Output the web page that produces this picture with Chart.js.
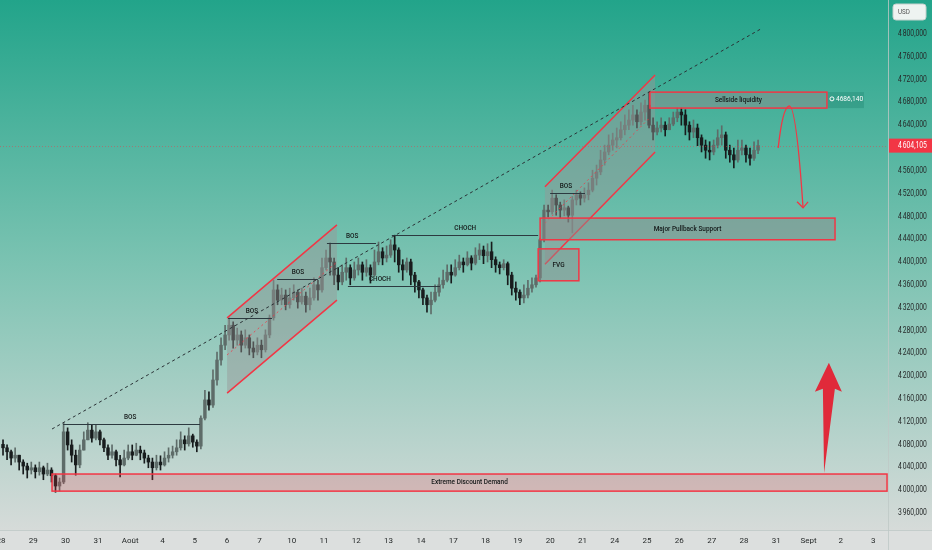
<!DOCTYPE html>
<html lang="fr">
<head>
<meta charset="UTF-8">
<title>Graphique</title>
<script src="https://cdn.jsdelivr.net/npm/chart.js"></script>
<style>
  html, body { margin: 0; padding: 0; background: #dcdedd; }
  #wrap { width: 932px; height: 550px; position: relative; }
</style>
</head>
<body>
<div id="wrap"><canvas id="chart"></canvas></div>
<script>
// axe du temps : une étiquette par séance
const dayLabels = ['28','29','30','31','Août','4','5','6','7','10','11','12','13','14','17','18','19','20','21','24','25','26','27','28','31','Sept','2','3'];
const priceTicks = [3960,4000,4040,4080,4120,4160,4200,4240,4280,4320,4360,4400,4440,4480,4520,4560,4600,4640,4680,4720,4760,4800];
const candlesPerDay = 8;

// bougies (ouverture = clôture précédente)
const firstOpen = 4080;
const candleClose = [
  4074,4067,4056,4061,4049,4042,4035,4039,
  4032,4039,4028,4035,4025,4007,4014,4102,
  4079,4061,4044,4070,4088,4105,4091,4102,
  4088,4074,4061,4067,4053,4044,4056,4067,
  4061,4070,4065,4056,4049,4039,4049,4044,
  4056,4061,4067,4074,4088,4081,4095,4084,
  4077,4126,4158,4149,4193,4228,4254,4272,
  4289,4263,4272,4254,4267,4249,4242,4254,
  4246,4272,4302,4351,4333,4342,4325,4337,
  4347,4330,4340,4325,4337,4360,4351,4390,
  4407,4400,4377,4365,4382,4390,4372,4386,
  4395,4382,4390,4377,4400,4418,4407,4412,
  4430,4421,4395,4386,4400,4377,4365,4351,
  4337,4325,4333,4347,4360,4368,4382,4377,
  4390,4400,4395,4407,4398,4412,4421,4411,
  4418,4404,4395,4390,4397,4377,4354,4347,
  4337,4342,4354,4360,4372,4439,4491,4488,
  4512,4500,4491,4495,4482,4509,4518,4512,
  4518,4526,4547,4558,4579,4593,4605,4614,
  4618,4632,4640,4649,4658,4646,4663,4675,
  4640,4628,4635,4640,4632,4642,4653,4663,
  4658,4640,4628,4635,4618,4605,4596,4593,
  4605,4618,4623,4596,4588,4579,4596,4600,
  4588,4582,4596,4604.105
];
const candleHigh = [
  4088,4079,4070,4074,4061,4053,4047,4049,
  4044,4049,4042,4047,4039,4028,4021,4118,
  4109,4088,4070,4079,4102,4118,4114,4114,
  4105,4091,4079,4079,4070,4061,4070,4079,
  4079,4082,4077,4070,4061,4056,4061,4060,
  4067,4074,4077,4088,4102,4095,4109,4098,
  4088,4130,4175,4172,4211,4242,4267,4289,
  4302,4295,4284,4279,4281,4272,4260,4267,
  4263,4281,4307,4368,4360,4354,4351,4354,
  4360,4351,4354,4347,4354,4372,4368,4407,
  4421,4433,4407,4390,4395,4407,4395,4400,
  4407,4400,4404,4395,4421,4435,4425,4428,
  4439,4447,4425,4404,4407,4405,4382,4368,
  4354,4342,4347,4360,4372,4386,4395,4395,
  4404,4412,4407,4418,4411,4425,4432,4428,
  4432,4435,4409,4400,4404,4400,4382,4365,
  4351,4360,4368,4372,4377,4442,4500,4500,
  4526,4518,4505,4509,4498,4515,4526,4523,
  4530,4539,4561,4570,4596,4605,4623,4626,
  4635,4646,4658,4667,4675,4667,4679,4684,
  4698,4653,4646,4653,4646,4653,4663,4670,
  4670,4667,4646,4649,4642,4623,4614,4611,
  4614,4632,4639,4628,4605,4600,4614,4614,
  4605,4600,4611,4614
];
const candleLow = [
  4061,4053,4044,4049,4035,4028,4021,4028,
  4021,4026,4018,4025,4014,3996,3998,4011,
  4070,4049,4026,4039,4070,4088,4084,4088,
  4079,4067,4053,4056,4042,4023,4042,4053,
  4053,4060,4053,4047,4039,4018,4035,4035,
  4042,4049,4056,4061,4070,4070,4077,4075,
  4067,4072,4123,4140,4145,4184,4219,4246,
  4263,4249,4254,4242,4249,4237,4232,4237,
  4232,4242,4267,4298,4325,4325,4316,4319,
  4333,4319,4326,4312,4316,4333,4333,4347,
  4386,4377,4360,4351,4360,4368,4360,4368,
  4377,4368,4375,4363,4375,4395,4395,4400,
  4408,4400,4382,4368,4382,4360,4347,4337,
  4325,4312,4309,4330,4340,4354,4365,4363,
  4375,4386,4382,4393,4386,4395,4404,4397,
  4400,4390,4382,4379,4386,4360,4342,4333,
  4325,4328,4337,4347,4356,4365,4435,4479,
  4484,4482,4477,4481,4470,4451,4500,4500,
  4505,4509,4523,4535,4553,4570,4588,4596,
  4600,4614,4623,4632,4640,4635,4640,4649,
  4635,4614,4623,4628,4621,4632,4639,4646,
  4640,4623,4614,4618,4604,4593,4582,4579,
  4588,4600,4605,4582,4575,4565,4575,4588,
  4575,4570,4578,4590
];

// tracés (x en jours depuis le 28, prix)
const extremeZone = [1.58, 27.43, 4028, 3998];
const pullbackZone = [16.69, 25.82, 4477, 4439];
const sellsideZone = [20.09, 25.57, 4698, 4670];
const fvgZone = [16.63, 17.89, 4423, 4367];
const sellsideLevel = 4686.14;
const channel1 = [[7.0, 4302], [10.40, 4465], [10.40, 4333], [7.0, 4170]];
const channel1Mid = [[7.0, 4237], [10.40, 4400]];
const channel3 = [[16.84, 4532], [20.25, 4728], [20.25, 4593], [16.84, 4396]];
const channel3Mid = [[16.84, 4468], [20.10, 4654]];
// [x1, x2, prix, x du texte]
const bosLines = [[1.92, 6.16, 4116, 4.0], [7.03, 8.39, 4302, 7.77], [8.55, 9.81, 4370, 9.19], [10.09, 11.61, 4433, 10.87], [17.0, 18.08, 4521, 17.49]];
const chochLines = [[10.74, 13.59, 4358, 11.73], [12.1, 16.63, 4447, 14.37]];
const trendLine = [[1.58, 4107], [23.56, 4810]];
const curveArrow = [[24.06, 4600], [24.20, 4672], [24.40, 4674], [24.62, 4674], [24.83, 4495]];
const bigArrow = [[25.63, 4223], [25.48, 4030]];

const candleX = candleClose.map((c, i) => (i + 0.5) / candlesPerDay);
const candleOpen = candleClose.map((c, i) => i === 0 ? firstOpen : candleClose[i - 1]);
const upCol = '#5e6c69', downCol = '#181c1d';
const candleCol = candleClose.map((c, i) => c >= candleOpen[i] ? upCol : downCol);

const RED = '#f23645';
const labelFont = '500 7.5px "Roboto", "DejaVu Sans", sans-serif';
const axisFont = '8.5px "Roboto", "DejaVu Sans", sans-serif';

function fmtPrice(v) {
  return v.toLocaleString('fr-FR', { minimumFractionDigits: 3, maximumFractionDigits: 3 });
}

// texte resserré horizontalement, comme la police étroite de l'original
function narrowText(ctx, t, x, y, sx, align) {
  ctx.save();
  ctx.translate(x, y);
  ctx.scale(sx, 1);
  ctx.textAlign = align || 'center';
  ctx.textBaseline = 'middle';
  ctx.fillText(t, 0, 0);
  ctx.restore();
}

const bgPlugin = {
  id: 'bg',
  beforeDraw(chart) {
    const ctx = chart.ctx, a = chart.chartArea;
    ctx.save();
    const g = ctx.createLinearGradient(0, 0, 0, a.bottom);
    g.addColorStop(0, '#22a48a');
    g.addColorStop(0.5, '#7cc3b2');
    g.addColorStop(1, '#d6dbd9');
    ctx.fillStyle = g;
    ctx.fillRect(0, 0, chart.width, a.bottom);
    ctx.fillStyle = '#dcdfde';
    ctx.fillRect(0, a.bottom, chart.width, chart.height - a.bottom);
    ctx.strokeStyle = 'rgba(190,200,197,0.8)';
    ctx.lineWidth = 1;
    ctx.beginPath();
    ctx.moveTo(a.right + 0.5, 0); ctx.lineTo(a.right + 0.5, chart.height);
    ctx.moveTo(0, a.bottom + 0.5); ctx.lineTo(chart.width, a.bottom + 0.5);
    ctx.stroke();
    ctx.restore();
  }
};

const drawPlugin = {
  id: 'drawings',
  afterDatasetsDraw(chart) {
    const ctx = chart.ctx, a = chart.chartArea;
    const xs = chart.scales.x, ys = chart.scales.y;
    const X = d => xs.getPixelForValue(d), Y = p => ys.getPixelForValue(p);
    ctx.save();
    ctx.beginPath(); ctx.rect(a.left, a.top, a.right - a.left, a.bottom - a.top); ctx.clip();

    function text(t, x, y) {
      ctx.font = labelFont; ctx.fillStyle = '#141818';
      narrowText(ctx, t, x, y, 0.86);
    }
    function zone(z, fill, label) {
      const x1 = X(z[0]), x2 = X(z[1]), y1 = Y(z[2]), y2 = Y(z[3]);
      ctx.fillStyle = fill; ctx.fillRect(x1, y1, x2 - x1, y2 - y1);
      ctx.strokeStyle = RED; ctx.lineWidth = 1.5;
      ctx.strokeRect(x1, y1, x2 - x1, y2 - y1);
      if (label) text(label, (x1 + x2) / 2, (y1 + y2) / 2);
    }
    function channel(pts, mid) {
      ctx.fillStyle = 'rgba(150,150,150,0.45)';
      ctx.beginPath();
      pts.forEach((p, i) => i ? ctx.lineTo(X(p[0]), Y(p[1])) : ctx.moveTo(X(p[0]), Y(p[1])));
      ctx.closePath(); ctx.fill();
      ctx.strokeStyle = RED; ctx.lineWidth = 1.5;
      ctx.beginPath();
      ctx.moveTo(X(pts[0][0]), Y(pts[0][1])); ctx.lineTo(X(pts[1][0]), Y(pts[1][1]));
      ctx.moveTo(X(pts[3][0]), Y(pts[3][1])); ctx.lineTo(X(pts[2][0]), Y(pts[2][1]));
      ctx.stroke();
      ctx.setLineDash([2, 3]); ctx.lineWidth = 1;
      ctx.strokeStyle = 'rgba(242,54,69,0.8)';
      ctx.beginPath();
      ctx.moveTo(X(mid[0][0]), Y(mid[0][1])); ctx.lineTo(X(mid[1][0]), Y(mid[1][1]));
      ctx.stroke();
      ctx.setLineDash([]);
    }
    function hline(l, name) {
      const y = Math.round(Y(l[2])) + 0.5;
      ctx.strokeStyle = '#2c3a40'; ctx.lineWidth = 1;
      ctx.beginPath(); ctx.moveTo(X(l[0]), y); ctx.lineTo(X(l[1]), y); ctx.stroke();
      text(name, X(l[3]), y - 7);
    }

    channel(channel1, channel1Mid);
    channel(channel3, channel3Mid);
    zone(extremeZone, 'rgba(242,54,69,0.2)', 'Extreme Discount Demand');
    zone(pullbackZone, 'rgba(140,140,140,0.5)', 'Major Pullback Support');
    zone(sellsideZone, 'rgba(140,140,140,0.5)', 'Sellside liquidity');
    zone(fvgZone, 'rgba(140,140,140,0.45)', 'FVG');
    bosLines.forEach(l => hline(l, 'BOS'));
    chochLines.forEach(l => hline(l, 'CHOCH'));

    // ligne de tendance pointillée
    ctx.strokeStyle = '#2a3236'; ctx.lineWidth = 1; ctx.setLineDash([3, 3]);
    ctx.beginPath();
    ctx.moveTo(X(trendLine[0][0]), Y(trendLine[0][1]));
    ctx.lineTo(X(trendLine[1][0]), Y(trendLine[1][1]));
    ctx.stroke();

    // ligne du dernier prix
    const last = candleClose[candleClose.length - 1];
    ctx.strokeStyle = 'rgba(242,54,69,0.45)'; ctx.setLineDash([1, 2]);
    ctx.beginPath(); ctx.moveTo(a.left, Math.round(Y(last)) + 0.5); ctx.lineTo(a.right, Math.round(Y(last)) + 0.5); ctx.stroke();
    ctx.setLineDash([]);

    // flèche courbe
    const c = curveArrow.map(p => [X(p[0]), Y(p[1])]);
    ctx.strokeStyle = RED; ctx.lineWidth = 1.3;
    ctx.beginPath();
    ctx.moveTo(c[0][0], c[0][1]);
    ctx.quadraticCurveTo(c[1][0], c[1][1], c[2][0], c[2][1]);
    ctx.quadraticCurveTo(c[3][0], c[3][1], c[4][0], c[4][1]);
    ctx.stroke();
    ctx.beginPath();
    ctx.moveTo(c[4][0] - 6, c[4][1] - 6); ctx.lineTo(c[4][0], c[4][1]); ctx.lineTo(c[4][0] + 5, c[4][1] - 6);
    ctx.stroke();

    // grande flèche
    const tx = X(bigArrow[0][0]), ty = Y(bigArrow[0][1]);
    const bx = X(bigArrow[1][0]), by = Y(bigArrow[1][1]);
    ctx.fillStyle = '#e02a3a';
    ctx.beginPath();
    ctx.moveTo(tx, ty);
    ctx.lineTo(tx + 13, ty + 29);
    ctx.lineTo(tx + 6, ty + 26);
    ctx.lineTo(bx, by);
    ctx.lineTo(tx - 6, ty + 26);
    ctx.lineTo(tx - 14, ty + 29);
    ctx.closePath(); ctx.fill();
    ctx.restore();

    // étiquette du niveau Sellside
    const sy1 = Y(sellsideZone[2]), sy2 = Y(sellsideZone[3]), sx = X(sellsideZone[1]);
    ctx.save();
    ctx.fillStyle = 'rgba(30,130,110,0.35)';
    ctx.fillRect(sx + 1, sy1, 36, sy2 - sy1);
    const ly = Y(sellsideLevel);
    ctx.strokeStyle = '#ffffff'; ctx.lineWidth = 1;
    ctx.beginPath(); ctx.arc(sx + 5, ly, 2, 0, Math.PI * 2); ctx.stroke();
    ctx.font = '7.5px "Roboto", sans-serif';
    ctx.fillStyle = '#ffffff';
    narrowText(ctx, '4686,140', sx + 9, ly, 0.88, 'left');
    ctx.restore();
  },
  afterDraw(chart) {
    const ctx = chart.ctx, a = chart.chartArea, ys = chart.scales.y;
    ctx.save();
    // graduations de prix
    ctx.font = axisFont; ctx.fillStyle = '#262a2a';
    ys.ticks.forEach(t => narrowText(ctx, fmtPrice(t.value), a.right + 10, ys.getPixelForValue(t.value), 0.8, 'left'));
    // étiquette du dernier prix
    const last = candleClose[candleClose.length - 1];
    const y = ys.getPixelForValue(last);
    ctx.fillStyle = RED;
    ctx.fillRect(a.right + 1, y - 7, chart.width - a.right - 1, 14);
    ctx.fillStyle = '#ffffff';
    narrowText(ctx, fmtPrice(last), a.right + 10, y + 0.5, 0.8, 'left');
    // boîte USD
    ctx.fillStyle = '#eef3f1'; ctx.strokeStyle = '#c5d1cd';
    ctx.beginPath(); ctx.roundRect(a.right + 5, 4, 33, 16, 3); ctx.fill(); ctx.stroke();
    ctx.font = '7px "Roboto", sans-serif'; ctx.fillStyle = '#555';
    narrowText(ctx, 'USD', a.right + 10, 12.5, 0.9, 'left');
    ctx.restore();
  }
};

new Chart(document.getElementById('chart'), {
  type: 'bar',
  data: {
    datasets: [
      {
        data: candleX.map((x, i) => ({ x: x, y: [candleLow[i], candleHigh[i]] })),
        backgroundColor: candleCol,
        barThickness: 1,
        grouped: false,
        order: 2
      },
      {
        data: candleX.map((x, i) => ({ x: x, y: [candleOpen[i], candleClose[i]] })),
        backgroundColor: candleCol,
        barThickness: 2.8,
        minBarLength: 1,
        grouped: false,
        order: 1
      }
    ]
  },
  options: {
    responsive: true,
    maintainAspectRatio: false,
    animation: false,
    layout: { padding: 0 },
    plugins: { legend: { display: false }, tooltip: { enabled: false } },
    scales: {
      x: {
        type: 'linear',
        min: -0.031,
        max: 27.46,
        offset: false,
        grid: { display: false, drawTicks: false },
        border: { display: false },
        afterBuildTicks: s => { s.ticks = dayLabels.map((l, i) => ({ value: i })); },
        afterFit: s => { s.height = 20; s.paddingLeft = 0; s.paddingRight = 0; },
        ticks: {
          autoSkip: false,
          maxRotation: 0,
          padding: 6,
          color: '#262a2a',
          font: { size: 8, family: '"Roboto", "DejaVu Sans", sans-serif' },
          callback: v => dayLabels[v]
        }
      },
      y: {
        type: 'linear',
        position: 'right',
        min: 3929.8,
        max: 4859.6,
        grid: { display: false, drawTicks: false },
        border: { display: false },
        afterBuildTicks: s => { s.ticks = priceTicks.map(v => ({ value: v })); },
        afterFit: s => { s.width = 44; s.paddingTop = 0; s.paddingBottom = 0; },
        ticks: { display: false }
      }
    }
  },
  plugins: [bgPlugin, drawPlugin]
});
</script>
</body>
</html>
